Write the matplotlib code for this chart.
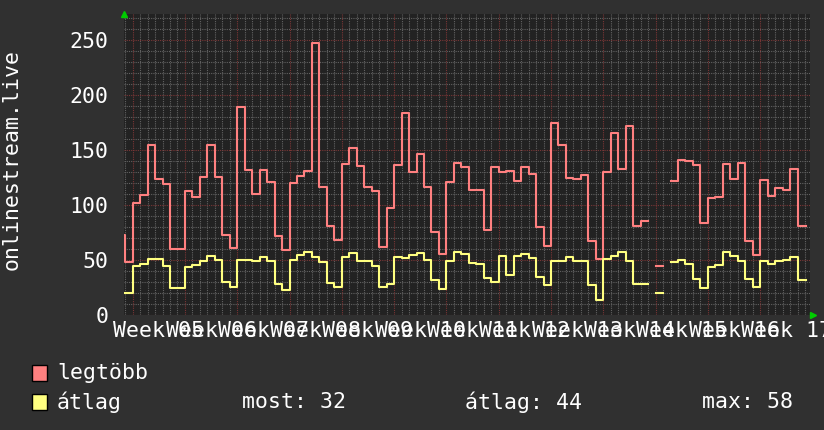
import numpy as np
import matplotlib
matplotlib.use("Agg")
import matplotlib.pyplot as plt
from matplotlib.patches import Rectangle

# ---------------- data (daily values, first day index = -2) ----------------
first_day = -2
nan = float("nan")
legtobb = [73, 48.6, 102.3, 109.6, 155.1, 123.9, 119.3, 60.4, 60.4,
           112.9, 107.8, 125.7, 155.1, 126, 73.2, 61,
           189.7, 132, 110.5, 132, 121.1, 72, 59.2,
           120.5, 126.6, 131.1, 248, 116.9, 81.4, 68.6,
           137.5, 152.1, 135.7, 116.9, 112.9, 61.9, 97.4,
           136.6, 184, 130.2, 146.6, 116.9, 75.6, 55.9,
           121.1, 138.4, 135.1, 113.8, 113.8, 77.4, 135.1,
           130.2, 131.5, 122.3, 135.1, 128.4, 80.4, 62.5,
           175.2, 155.1, 125.1, 124.2, 127.8, 67.7, 51.3,
           130.2, 166.1, 133.3, 172.4, 81.1, 85.9, nan,
           44.6, nan, 122, 141.5, 140.6, 136.9, 84.1,
           106.9, 107.8, 137.5, 124.2, 138.4, 67.7, 54.6,
           122.6, 108.1, 115.6, 113.8, 133, 81.1]
atlag = [20, 20, 44.6, 46.8, 51, 51, 44.9, 24.9, 24.9,
         43.7, 45.8, 49.5, 53.7, 50.4, 30.4, 25.8,
         50.4, 50.1, 48.9, 52.8, 49.5, 28.2, 22.5,
         49.8, 54.6, 57.7, 52.8, 48, 29.1, 25.8,
         53.1, 56.8, 49.5, 49.5, 44.6, 25.8, 28.2,
         53.1, 52.2, 54.6, 56.8, 50.1, 32.2, 24,
         48.9, 57.7, 55.3, 47.7, 46.4, 34, 29.8,
         53.7, 36.7, 54, 55.9, 52.2, 34.9, 27.6,
         49.5, 49.5, 53.1, 49.5, 49.5, 27.3, 13.7,
         51, 54, 57.7, 49.5, 28.2, 28.2, nan,
         20, nan, 48.6, 50.4, 46.4, 32.5, 24.9,
         43.7, 45.8, 57.7, 54, 49.5, 32.5, 25.5,
         49.5, 46.8, 49.2, 50.4, 53.1, 31.6]
end_day = 90.2
week_labels = ["Week 05", "Week 06", "Week 07", "Week 08", "Week 09", "Week 10",
               "Week 11", "Week 12", "Week 13", "Week 14", "Week 15", "Week 16",
               "Week 17"]
y_ticks = [0, 50, 100, 150, 200, 250]
series_names = ["legtöbb", "átlag"]
stats = ["most: 32", "átlag: 44", "max: 58"]
y_label = "onlinestream.live"

# ---------------- styling ----------------
BG = "#303030"
PLOT_BG = "#222222"
MINOR = "#626262"
MAJOR = "#7a3636"
RED = "#ff8080"
YEL = "#ffff80"
TXT = "#ffffff"
FONT = "DejaVu Sans Mono"
FS = 15.5

W, H = 824, 430
fig = plt.figure(figsize=(W / 100, H / 100), dpi=100, facecolor=BG)
ax = fig.add_axes([124 / W, (H - 315) / H, 686 / W, 301 / H])
ax.set_facecolor(PLOT_BG)

x_left, x_right = -1.16, 90.67
y_top = 274
ax.set_xlim(x_left, x_right)
ax.set_ylim(0, y_top)

# grid
dot = (0, (1, 1))
for d in range(int(np.ceil(x_left)), int(np.floor(x_right)) + 1):
    if d % 7:
        ax.axvline(d, color=MINOR, lw=0.8, ls=dot, zorder=1)
for v in range(10, y_top, 10):
    if v % 50:
        ax.axhline(v, color=MINOR, lw=0.8, ls=dot, zorder=1)
for d in range(0, int(x_right) + 1, 7):
    ax.axvline(d, color=MAJOR, lw=0.8, ls=dot, zorder=1.5)
for v in y_ticks:
    ax.axhline(v, color=MAJOR, lw=0.8, ls=dot, zorder=1.5)

# series
days = np.arange(first_day, first_day + len(legtobb)).astype(float)
xs = np.append(days, end_day)
r = np.append(np.array(legtobb, float), legtobb[-1])
yv = np.append(np.array(atlag, float), atlag[-1])
ax.step(xs, r, where="post", color=RED, lw=1.5, zorder=3)
ax.step(xs, yv, where="post", color=YEL, lw=1.5, zorder=3)

# axes / ticks
for s in ax.spines.values():
    s.set_visible(False)
mids = [7 * i + 3.5 for i in range(len(week_labels))]
ax.set_xticks(mids, week_labels)
ax.set_yticks(y_ticks, [str(v) for v in y_ticks])
ax.tick_params(axis="x", length=0, pad=4, colors=TXT, labelsize=FS)
ax.tick_params(axis="y", length=0, pad=11, colors=TXT, labelsize=FS)
for lab in ax.get_xticklabels() + ax.get_yticklabels():
    lab.set_fontfamily(FONT)
    lab.set_clip_on(False)

# arrows
ax.plot([0], [1], marker="^", ms=5, color="#00cc00", transform=ax.transAxes,
        clip_on=False, zorder=5)
ax.plot([1.005], [0], marker=">", ms=5, color="#00cc00", transform=ax.transAxes,
        clip_on=False, zorder=5)

# y label
fig.text(12 / W, 1 - 160 / H, y_label, rotation=90, ha="center", va="center",
         color=TXT, fontsize=FS, family=FONT)

# legend
for i, (name, col) in enumerate(zip(series_names, [RED, YEL])):
    yc = 373 + 29 * i
    fig.patches.append(Rectangle((32 / W, 1 - (yc + 8) / H), 15 / W, 16 / H,
                                 transform=fig.transFigure, facecolor=col,
                                 edgecolor="black", lw=1))
    fig.text(57 / W, 1 - yc / H, name, ha="left", va="center", color=TXT,
             fontsize=FS, family=FONT)
for txt, xp in zip(stats, [242, 465, 702]):
    fig.text(xp / W, 1 - 402 / H, txt, ha="left", va="center", color=TXT,
             fontsize=FS, family=FONT)

fig.savefig("out.png", dpi=100, facecolor=BG)
